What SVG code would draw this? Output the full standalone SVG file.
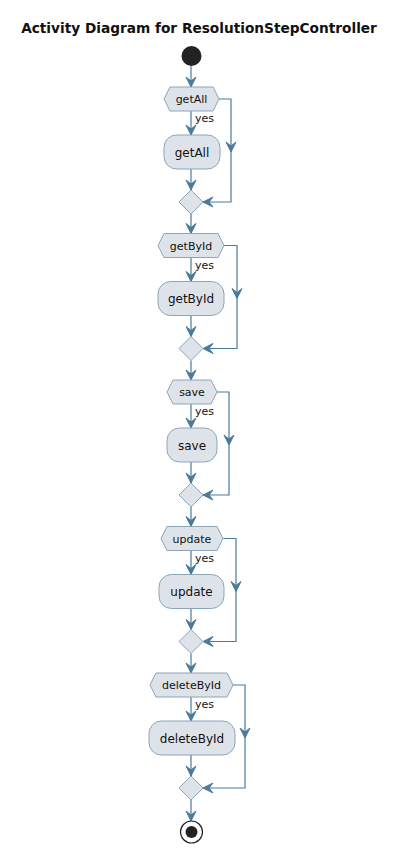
<svg xmlns="http://www.w3.org/2000/svg" xmlns:xlink="http://www.w3.org/1999/xlink" width="400" height="851" viewBox="0 0 400 851">
<style>
.node{fill:#DEE3EA;stroke:#8AA5B9;stroke-width:1}
.ln{fill:none;stroke:#4B7A9A;stroke-width:1.2}
.ah{fill:#4B7A9A;stroke:#4B7A9A;stroke-width:1}
.t{font-family:"DejaVu Sans",sans-serif;fill:#111111}
.ht{font-size:11px;text-anchor:middle}
.at{font-size:12px;text-anchor:middle}
.yes{font-size:11px}
.title{font-family:"DejaVu Sans",sans-serif;font-weight:bold;font-size:13.7px;text-anchor:middle;fill:#111111}
</style>
<defs>
<path id="ad" d="M0,0 L-5,-10 L0,-6 L5,-10 Z"/>
</defs>
<rect width="400" height="851" fill="#FFFFFF"/>
<text class="title" x="199" y="33">Activity Diagram for ResolutionStepController</text>

<g id="connectors">
  <line class="ln" x1="191" y1="66" x2="191" y2="87"/>
  <use href="#ad" class="ah" transform="translate(191,87)"/>
  <line class="ln" x1="191" y1="111" x2="191" y2="135"/>
  <use href="#ad" class="ah" transform="translate(191,135)"/>
  <line class="ln" x1="191" y1="169" x2="191" y2="190"/>
  <use href="#ad" class="ah" transform="translate(191,190)"/>
  <polyline class="ln" points="219,99 231,99 231,202 203,202"/>
  <use href="#ad" class="ah" transform="translate(231,152)"/>
  <use href="#ad" class="ah" transform="translate(203,202) rotate(90)"/>
  <line class="ln" x1="191" y1="214" x2="191" y2="233.5"/>
  <use href="#ad" class="ah" transform="translate(191,233.5)"/>
  <line class="ln" x1="191" y1="257.5" x2="191" y2="281.5"/>
  <use href="#ad" class="ah" transform="translate(191,281.5)"/>
  <line class="ln" x1="191" y1="315.5" x2="191" y2="336.5"/>
  <use href="#ad" class="ah" transform="translate(191,336.5)"/>
  <polyline class="ln" points="224,245.5 237,245.5 237,348.5 203,348.5"/>
  <use href="#ad" class="ah" transform="translate(237,298.5)"/>
  <use href="#ad" class="ah" transform="translate(203,348.5) rotate(90)"/>
  <line class="ln" x1="191" y1="360.5" x2="191" y2="380"/>
  <use href="#ad" class="ah" transform="translate(191,380)"/>
  <line class="ln" x1="191" y1="404" x2="191" y2="428"/>
  <use href="#ad" class="ah" transform="translate(191,428)"/>
  <line class="ln" x1="191" y1="462" x2="191" y2="483"/>
  <use href="#ad" class="ah" transform="translate(191,483)"/>
  <polyline class="ln" points="217,392 229,392 229,495 203,495"/>
  <use href="#ad" class="ah" transform="translate(229,445)"/>
  <use href="#ad" class="ah" transform="translate(203,495) rotate(90)"/>
  <line class="ln" x1="191" y1="507" x2="191" y2="526.5"/>
  <use href="#ad" class="ah" transform="translate(191,526.5)"/>
  <line class="ln" x1="191" y1="550.5" x2="191" y2="574.5"/>
  <use href="#ad" class="ah" transform="translate(191,574.5)"/>
  <line class="ln" x1="191" y1="608.5" x2="191" y2="629.5"/>
  <use href="#ad" class="ah" transform="translate(191,629.5)"/>
  <polyline class="ln" points="223,538.5 236,538.5 236,641.5 203,641.5"/>
  <use href="#ad" class="ah" transform="translate(236,591.5)"/>
  <use href="#ad" class="ah" transform="translate(203,641.5) rotate(90)"/>
  <line class="ln" x1="191" y1="653.5" x2="191" y2="673"/>
  <use href="#ad" class="ah" transform="translate(191,673)"/>
  <line class="ln" x1="191" y1="697" x2="191" y2="721"/>
  <use href="#ad" class="ah" transform="translate(191,721)"/>
  <line class="ln" x1="191" y1="755" x2="191" y2="776"/>
  <use href="#ad" class="ah" transform="translate(191,776)"/>
  <polyline class="ln" points="233,685 245,685 245,788 203,788"/>
  <use href="#ad" class="ah" transform="translate(245,738)"/>
  <use href="#ad" class="ah" transform="translate(203,788) rotate(90)"/>
  <line class="ln" x1="191" y1="800" x2="191" y2="821"/>
  <use href="#ad" class="ah" transform="translate(191,821)"/>
</g>

<g id="start"><circle cx="191.5" cy="56" r="10" fill="#222222"/></g>

<g id="dec-getAll">
  <polygon class="node" points="164,99 170,87 213,87 219,99 213,111 170,111"/>
  <text class="t ht" x="191.5" y="103">getAll</text>
  <text class="t yes" x="195" y="122">yes</text>
</g>
<g id="act-getAll">
  <rect class="node" x="164" y="135" width="56" height="34" rx="12.5"/>
  <text class="t at" x="192" y="156.5">getAll</text>
</g>
<g id="merge-getAll"><polygon class="node" points="191,190 203,202 191,214 179,202"/></g>

<g id="dec-getById">
  <polygon class="node" points="158,245.5 164,233.5 218,233.5 224,245.5 218,257.5 164,257.5"/>
  <text class="t ht" x="191" y="249.5">getById</text>
  <text class="t yes" x="195" y="268.5">yes</text>
</g>
<g id="act-getById">
  <rect class="node" x="158" y="281.5" width="66" height="34" rx="12.5"/>
  <text class="t at" x="191" y="303">getById</text>
</g>
<g id="merge-getById"><polygon class="node" points="191,336.5 203,348.5 191,360.5 179,348.5"/></g>

<g id="dec-save">
  <polygon class="node" points="167,392 173,380 211,380 217,392 211,404 173,404"/>
  <text class="t ht" x="192" y="396">save</text>
  <text class="t yes" x="195" y="415">yes</text>
</g>
<g id="act-save">
  <rect class="node" x="167" y="428" width="50" height="34" rx="12.5"/>
  <text class="t at" x="192" y="449.5">save</text>
</g>
<g id="merge-save"><polygon class="node" points="191,483 203,495 191,507 179,495"/></g>

<g id="dec-update">
  <polygon class="node" points="161,538.5 167,526.5 217,526.5 223,538.5 217,550.5 167,550.5"/>
  <text class="t ht" x="192" y="542.5">update</text>
  <text class="t yes" x="195" y="561.5">yes</text>
</g>
<g id="act-update">
  <rect class="node" x="159" y="574.5" width="65" height="34" rx="12.5"/>
  <text class="t at" x="191.5" y="596">update</text>
</g>
<g id="merge-update"><polygon class="node" points="191,629.5 203,641.5 191,653.5 179,641.5"/></g>

<g id="dec-deleteById">
  <polygon class="node" points="150,685 156,673 227,673 233,685 227,697 156,697"/>
  <text class="t ht" x="191.5" y="689">deleteById</text>
  <text class="t yes" x="195" y="708">yes</text>
</g>
<g id="act-deleteById">
  <rect class="node" x="149" y="721" width="86" height="34" rx="12.5"/>
  <text class="t at" x="192" y="742.5">deleteById</text>
</g>
<g id="merge-deleteById"><polygon class="node" points="191,776 203,788 191,800 179,788"/></g>

<g id="end">
  <circle cx="191.5" cy="832" r="11" fill="#FFFFFF" stroke="#222222" stroke-width="1.2"/>
  <circle cx="191.5" cy="832" r="6" fill="#222222"/>
</g>
</svg>
